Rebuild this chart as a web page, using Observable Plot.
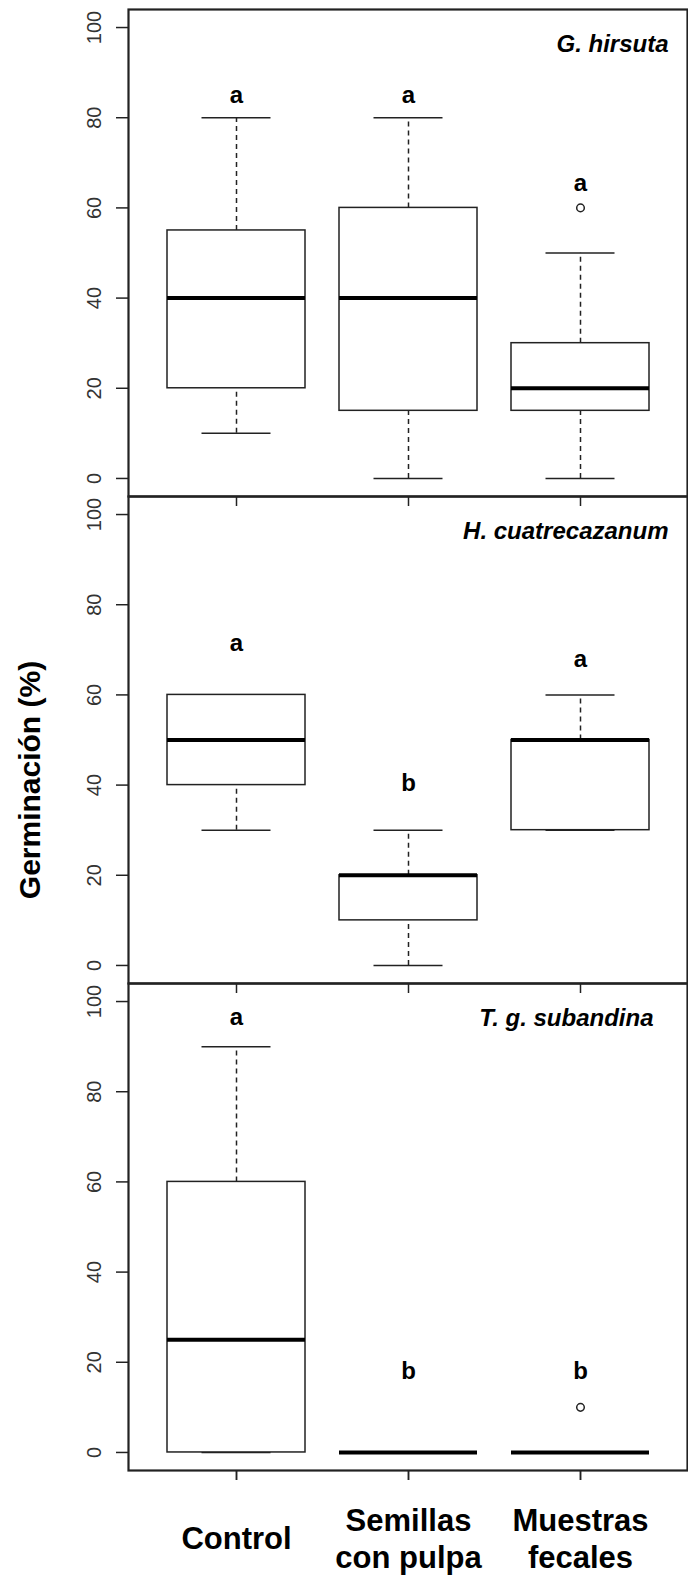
<!DOCTYPE html>
<html>
<head>
<meta charset="utf-8">
<script src="https://cdn.jsdelivr.net/npm/d3@7"></script>
<script src="https://cdn.jsdelivr.net/npm/@observablehq/plot@0.6"></script>
<style>
  html, body { margin: 0; padding: 0; background: #fff; }
  #chart { width: 688px; height: 1576px; }
</style>
</head>
<body>
<div id="chart"></div>
<script>
// ---- data ----
const species = ["G. hirsuta", "H. cuatrecazanum", "T. g. subandina"];
const treatments = ["Control", "Semillas con pulpa", "Muestras fecales"];
const treatmentLabels = ["Control", "Semillas\ncon pulpa", "Muestras\nfecales"];
const yTicks = [0, 20, 40, 60, 80, 100];
const yTitle = "Germinación (%)";

// rows: species; columns: treatments
const whiskerLow  = [[10, 0, 0], [30, 0, 30], [0, 0, 0]];
const q1          = [[20, 15, 15], [40, 10, 30], [0, 0, 0]];
const median      = [[40, 40, 20], [50, 20, 50], [25, 0, 0]];
const q3          = [[55, 60, 30], [60, 20, 50], [60, 0, 0]];
const whiskerHigh = [[80, 80, 50], [60, 30, 60], [90, 0, 0]];
const letters     = [["a", "a", "a"], ["a", "b", "a"], ["a", "b", "b"]];
const letterY     = [[85, 85, 65.5], [71.5, 40.5, 68], [96.5, 18, 18]];
const outlierSpecies   = ["G. hirsuta", "T. g. subandina"];
const outlierTreatment = ["Muestras fecales", "Muestras fecales"];
const outlierValue     = [60, 10];

// ---- build table ----
const rows = [];
species.forEach((sp, i) => treatments.forEach((t, j) => rows.push({
  species: sp, treatment: t,
  lo: whiskerLow[i][j], q1: q1[i][j], med: median[i][j], q3: q3[i][j], hi: whiskerHigh[i][j],
  letter: letters[i][j], ly: letterY[i][j]
})));
const outliers = outlierValue.map((v, k) => ({species: outlierSpecies[k], treatment: outlierTreatment[k], value: v}));
const labelOf = new Map(treatments.map((t, i) => [t, treatmentLabels[i]]));

const ink = "#222";
const speciesStyle = {fy: d => d, text: d => d, frameAnchor: "top-right", dy: 42, lineAnchor: "bottom",
  textAnchor: "end", fontSize: 24, fontWeight: "bold", fontStyle: "italic", fill: "#000"};

const chart = Plot.plot({
  width: 688,
  height: 1576,
  marginTop: 9,
  marginBottom: 106,
  marginLeft: 128,
  marginRight: 1,
  style: {fontFamily: "'Liberation Sans', Arial, sans-serif", background: "#fff", color: "#000"},
  x: {domain: treatments, paddingInner: 0.2, paddingOuter: 0.22, label: null},
  y: {domain: [-4, 104], label: null},
  fy: {domain: species, padding: 0, axis: null, label: null},
  marks: [
    Plot.frame({stroke: ink, strokeWidth: 2.2}),
    // x ticks on every panel
    Plot.axisX({facetAnchor: null, tickSize: 10, tickFormat: () => "", label: null, stroke: ink, strokeWidth: 1.5}),
    // x labels on bottom panel
    Plot.axisX({tickSize: 10, tickPadding: 57, lineAnchor: "middle", lineHeight: 1.2,
      tickFormat: d => labelOf.get(d), fontSize: 31, fontWeight: "bold", label: null, stroke: ink, strokeWidth: 1.5}),
    // y axis per panel
    Plot.axisY({ticks: yTicks, tickSize: 12, tickRotate: -90, tickPadding: 16, fontSize: 20,
      label: null, stroke: ink, strokeWidth: 1.5, fill: "#333"}),
    // whiskers
    Plot.ruleX(rows, {x: "treatment", fy: "species", y1: "lo", y2: "q1", stroke: ink, strokeWidth: 1.5, strokeDasharray: "5,4"}),
    Plot.ruleX(rows, {x: "treatment", fy: "species", y1: "q3", y2: "hi", stroke: ink, strokeWidth: 1.5, strokeDasharray: "5,4"}),
    Plot.tickY(rows, {x: "treatment", fy: "species", y: "lo", stroke: ink, strokeWidth: 1.5, insetLeft: 34.5, insetRight: 34.5}),
    Plot.tickY(rows, {x: "treatment", fy: "species", y: "hi", stroke: ink, strokeWidth: 1.5, insetLeft: 34.5, insetRight: 34.5}),
    // boxes
    Plot.barY(rows, {x: "treatment", fy: "species", y1: "q1", y2: "q3", fill: "#fff", stroke: ink, strokeWidth: 1.5}),
    // medians
    Plot.tickY(rows, {x: "treatment", fy: "species", y: "med", stroke: "#000", strokeWidth: 4}),
    // outliers
    Plot.dot(outliers, {x: "treatment", fy: "species", y: "value", r: 3.8, stroke: ink, strokeWidth: 1.5, fill: "#fff"}),
    // significance letters
    Plot.text(rows, {x: "treatment", fy: "species", y: "ly", text: "letter", fontSize: 24, fontWeight: "bold", fill: "#000"}),
    // species names
    Plot.text(species.slice(0, 2), {...speciesStyle, dx: -19}),
    Plot.text(species.slice(2), {...speciesStyle, dx: -34}),
    // y title
    Plot.text([yTitle], {fy: () => species[1], text: d => d, frameAnchor: "left", dx: -89, dy: 40, rotate: -90,
      lineAnchor: "bottom", textAnchor: "middle", fontSize: 30, fontWeight: "bold", fill: "#000"})
  ]
});
document.getElementById("chart").appendChild(chart);
</script>
</body>
</html>
